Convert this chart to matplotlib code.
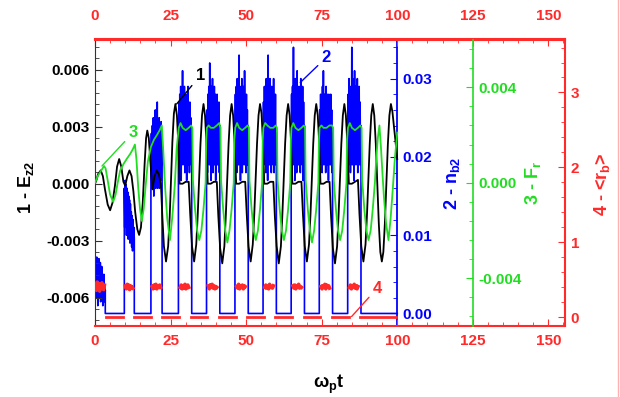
import numpy as np
import matplotlib
matplotlib.use('Agg')
import matplotlib.pyplot as plt
from matplotlib.ticker import MultipleLocator, FormatStrFormatter
from matplotlib.lines import Line2D

plt.rcParams['font.family'] = ['Liberation Sans', 'DejaVu Sans']
plt.rcParams['font.weight'] = 'bold'
plt.rcParams['axes.unicode_minus'] = False
plt.rcParams['mathtext.fontset'] = 'custom'
plt.rcParams['mathtext.rm'] = 'Liberation Sans:bold'
plt.rcParams['mathtext.it'] = 'Liberation Sans:bold'
plt.rcParams['mathtext.bf'] = 'Liberation Sans:bold'

RED = '#ff2a2a'
BLUE = '#0000ff'
GREEN = '#22dd22'

# curve 1 : E_z2 (left axis)
black_t = [
    0.0, 0.5, 1.0, 1.9, 2.6, 3.3, 4.2, 5.0, 5.8, 6.6, 7.3, 8.0, 8.7, 9.4, 10.0, 10.7, 11.4, 12.1, 12.7,
    13.3, 14.0, 14.6, 15.2, 15.8, 16.4, 16.9, 17.3, 17.8, 18.4, 19.0, 19.7, 20.4, 21.1, 21.8,
    22.3, 22.8, 23.5, 24.2, 24.7, 25.1, 25.6, 26.1, 26.6, 27.1, 27.6,
    28.0, 29.0, 30.0, 31.0, 31.5, 32.1, 32.8, 33.5, 34.0, 34.4, 34.9, 35.4, 35.9, 36.4, 36.9,
    37.3, 38.3, 39.3, 40.3, 40.8, 41.4, 42.1, 42.8, 43.3, 43.7, 44.2, 44.7, 45.2, 45.7, 46.2,
    46.7, 47.7, 48.7, 49.7, 50.2, 50.8, 51.5, 52.2, 52.7, 53.1, 53.6, 54.1, 54.6, 55.1, 55.6,
    56.0, 57.0, 58.0, 59.0, 59.5, 60.1, 60.8, 61.5, 62.0, 62.4, 62.9, 63.4, 63.9, 64.4, 64.9,
    65.3, 66.3, 67.3, 68.3, 68.8, 69.4, 70.1, 70.8, 71.3, 71.7, 72.2, 72.7, 73.2, 73.7, 74.2,
    74.6, 75.6, 76.6, 77.6, 78.1, 78.7, 79.4, 80.1, 80.6, 81.0, 81.5, 82.0, 82.5, 83.0, 83.5,
    84.0, 85.0, 86.0, 87.0, 87.5, 88.1, 88.8, 89.5, 90.0, 90.4, 90.9, 91.4, 91.9, 92.4, 92.9,
    93.4, 93.9, 94.4, 94.9, 95.4, 95.9, 96.4, 96.9, 97.4, 97.9, 98.4, 99.0, 99.5, 100.0]
black_v = [
    0.0, 0.0002, 0.0005, 0.0007, 0.0004, -0.0003, -0.0011, -0.0014, -0.0010, -0.0001, 0.0009, 0.0013, 0.0009, 0.0001, -0.0001, 0.0004, 0.0007, 0.0004, -0.0004,
    -0.0015, -0.0024, -0.0027, -0.0023, -0.0010, 0.0010, 0.0024, 0.0028, 0.0024, 0.0010, -0.0003, 0.0004, 0.0007, 0.0005, 0.0000,
    -0.0018, -0.0033, -0.0041, -0.0033, -0.0018, 0.0000, 0.0022, 0.0037, 0.0042, 0.0036, 0.0020,
    0.0, 0.0, 0.0001, 0.0001, -0.0016, -0.0033, -0.0041, -0.0032, -0.0016, 0.0, 0.0021, 0.0036, 0.0042, 0.0036, 0.0021,
    0.0, 0.0, 0.0001, 0.0001, -0.0017, -0.0034, -0.0042, -0.0033, -0.0016, 0.0, 0.0021, 0.0036, 0.0042, 0.0036, 0.0021,
    0.0, 0.0, 0.0001, 0.0001, -0.0016, -0.0033, -0.0041, -0.0032, -0.0016, 0.0, 0.0021, 0.0036, 0.0042, 0.0037, 0.0021,
    0.0, 0.0, 0.0001, 0.0001, -0.0017, -0.0033, -0.0042, -0.0033, -0.0016, 0.0, 0.0021, 0.0036, 0.0042, 0.0036, 0.0021,
    0.0, 0.0, 0.0001, 0.0001, -0.0016, -0.0033, -0.0041, -0.0032, -0.0016, 0.0, 0.0021, 0.0036, 0.0042, 0.0036, 0.0021,
    0.0, 0.0, 0.0001, 0.0001, -0.0017, -0.0034, -0.0042, -0.0033, -0.0016, 0.0, 0.0021, 0.0036, 0.0042, 0.0036, 0.0021,
    0.0, 0.0, 0.0001, 0.0002, -0.0016, -0.0033, -0.0041, -0.0032, -0.0016, 0.0, 0.0021, 0.0036, 0.0042, 0.0036, 0.0021,
    0.0, -0.0021, -0.0036, -0.0041, -0.0036, -0.0021, 0.0, 0.0021, 0.0036, 0.0042, 0.0038, 0.0029, 0.0021, 0.0013]

# curve 3 : F_r (green axis)
green_t = [
    0.0, 1.0, 2.0, 3.0, 3.5, 4.2, 5.0, 6.0, 6.8, 7.5, 8.3, 9.5, 10.5, 11.6, 12.5, 13.2, 13.7, 14.3, 14.9, 15.5,
    16.1, 16.7, 17.5, 18.5, 19.5, 20.5, 21.4, 22.1, 22.6, 23.2, 23.9, 24.8, 25.6, 26.4, 27.0,
    27.7, 28.3, 29.0, 30.0, 31.0, 31.8, 32.2, 32.4, 33.1, 33.8, 34.5, 35.2, 35.9, 36.6, 36.8,
    37.0, 37.6, 38.3, 39.3, 40.3, 41.1, 41.5, 41.7, 42.4, 43.1, 43.8, 44.5, 45.2, 45.9, 46.1,
    46.4, 47.0, 47.7, 48.7, 49.7, 50.5, 50.9, 51.1, 51.8, 52.5, 53.2, 53.9, 54.6, 55.3, 55.5,
    55.7, 56.3, 57.0, 58.0, 59.0, 59.8, 60.2, 60.4, 61.1, 61.8, 62.5, 63.2, 63.9, 64.6, 64.8,
    65.0, 65.6, 66.3, 67.3, 68.3, 69.1, 69.5, 69.7, 70.4, 71.1, 71.8, 72.5, 73.2, 73.9, 74.1,
    74.3, 74.9, 75.6, 76.6, 77.6, 78.4, 78.8, 79.0, 79.7, 80.4, 81.1, 81.8, 82.5, 83.2, 83.4,
    83.7, 84.3, 85.0, 86.0, 87.0, 87.8, 88.2, 88.4, 89.1, 89.8, 90.5, 91.2, 91.9, 92.6,
    93.1, 93.6, 94.1, 94.6, 95.1, 95.6, 96.3, 97.1, 97.8, 98.5, 99.2, 100.0]
green_v = [
    0.0, 0.0003, 0.0005, 0.0007, 0.0006, 0.0001, -0.0005, -0.0008, -0.0005, 0.0, 0.0005, 0.0008, 0.0010, 0.0012, 0.0014, 0.0016, 0.0010, -0.0002, -0.0011, -0.0016,
    -0.0011, -0.0002, 0.0009, 0.0015, 0.0018, 0.0020, 0.0022, 0.0024, 0.0013, -0.0002, -0.0015, -0.0024, -0.0014, -0.0001, 0.0014,
    0.0023, 0.0025, 0.0023, 0.0022, 0.0023, 0.0024, 0.0023, 0.0001, -0.0011, -0.0020, -0.0024, -0.0020, -0.0011, 0.0, 0.0018,
    0.0023, 0.0024, 0.0023, 0.0023, 0.0024, 0.0025, 0.0023, 0.0001, -0.0011, -0.0020, -0.0025, -0.0020, -0.0011, 0.0, 0.0018,
    0.0023, 0.0025, 0.0023, 0.0022, 0.0023, 0.0024, 0.0023, 0.0001, -0.0011, -0.0020, -0.0024, -0.0020, -0.0011, 0.0, 0.0018,
    0.0023, 0.0025, 0.0024, 0.0023, 0.0023, 0.0024, 0.0023, 0.0001, -0.0011, -0.0020, -0.0024, -0.0020, -0.0011, 0.0, 0.0018,
    0.0023, 0.0025, 0.0023, 0.0022, 0.0023, 0.0024, 0.0023, 0.0001, -0.0011, -0.0020, -0.0025, -0.0020, -0.0011, 0.0, 0.0018,
    0.0023, 0.0024, 0.0023, 0.0023, 0.0024, 0.0024, 0.0023, 0.0001, -0.0011, -0.0020, -0.0024, -0.0020, -0.0011, 0.0, 0.0018,
    0.0023, 0.0025, 0.0023, 0.0022, 0.0023, 0.0024, 0.0023, 0.0001, -0.0011, -0.0020, -0.0024, -0.0020, -0.0011, 0.0,
    0.0011, 0.0019, 0.0024, 0.0015, 0.0004, -0.0006, -0.0017, -0.0024, -0.0015, -0.0003, 0.0010, 0.0021]

# curve 2 : n_b2 (blue axis), bursts between zero stretches
burst_start = [0.0, 9.7, 18.5, 27.6, 36.9, 46.3, 55.6, 64.9, 74.2, 83.6]
burst_end = [3.4, 13.0, 22.2, 32.0, 41.3, 50.7, 60.0, 69.3, 78.6, 88.0]
burst_vals = [
    [0.004, 0.007, 0.002, 0.006, 0.003, 0.0072, 0.002, 0.005, 0.001, 0.006, 0.003, 0.007, 0.002, 0.0055, 0.0035,
     0.0065, 0.0015, 0.005, 0.003, 0.006, 0.002, 0.0045, 0.001, 0.004, 0.0025, 0.005, 0.0015, 0.0035, 0.002, 0.003],
    [0.016, 0.011, 0.017, 0.012, 0.0165, 0.010, 0.016, 0.011, 0.0155, 0.0095, 0.015, 0.010,
     0.0145, 0.009, 0.014, 0.0095, 0.013, 0.0085, 0.0125, 0.008, 0.012, 0.0085, 0.011, 0.0095],
    [0.018, 0.023, 0.016, 0.024, 0.017, 0.025, 0.015, 0.023, 0.018, 0.026, 0.016, 0.0245,
     0.017, 0.027, 0.016, 0.024, 0.018, 0.025, 0.016, 0.023, 0.017, 0.0245, 0.019, 0.022],
    [0.021, 0.027, 0.018, 0.028, 0.020, 0.029, 0.017, 0.027, 0.022, 0.031, 0.019, 0.028, 0.021, 0.029, 0.018,
     0.026, 0.020, 0.028, 0.017, 0.027, 0.021, 0.029, 0.019, 0.026, 0.018, 0.027, 0.020, 0.025, 0.019, 0.023],
    [0.020, 0.026, 0.018, 0.028, 0.021, 0.029, 0.019, 0.032, 0.020, 0.028, 0.017, 0.029, 0.022, 0.030, 0.018,
     0.027, 0.021, 0.029, 0.019, 0.028, 0.017, 0.027, 0.021, 0.028, 0.019, 0.026, 0.020, 0.027, 0.018, 0.024],
    [0.022, 0.028, 0.019, 0.029, 0.018, 0.030, 0.021, 0.027, 0.019, 0.033, 0.020, 0.029, 0.017, 0.028, 0.022,
     0.030, 0.018, 0.027, 0.020, 0.029, 0.019, 0.031, 0.021, 0.027, 0.018, 0.028, 0.020, 0.026, 0.019, 0.024],
    [0.021, 0.027, 0.019, 0.029, 0.020, 0.028, 0.018, 0.030, 0.021, 0.029, 0.017, 0.033, 0.020, 0.028, 0.019,
     0.030, 0.021, 0.027, 0.018, 0.029, 0.020, 0.028, 0.019, 0.030, 0.018, 0.027, 0.021, 0.028, 0.019, 0.023],
    [0.020, 0.028, 0.018, 0.029, 0.021, 0.034, 0.019, 0.028, 0.017, 0.030, 0.021, 0.029, 0.018, 0.031, 0.020,
     0.028, 0.019, 0.029, 0.021, 0.027, 0.018, 0.030, 0.020, 0.028, 0.019, 0.029, 0.017, 0.027, 0.020, 0.024],
    [0.021, 0.026, 0.019, 0.028, 0.020, 0.027, 0.018, 0.029, 0.021, 0.031, 0.019, 0.028, 0.020, 0.027, 0.018,
     0.029, 0.021, 0.028, 0.019, 0.027, 0.017, 0.028, 0.020, 0.026, 0.019, 0.028, 0.021, 0.026, 0.018, 0.023],
    [0.022, 0.028, 0.019, 0.030, 0.021, 0.029, 0.018, 0.028, 0.020, 0.034, 0.019, 0.030, 0.021, 0.028, 0.017,
     0.031, 0.020, 0.029, 0.019, 0.028, 0.021, 0.030, 0.018, 0.027, 0.020, 0.029, 0.019, 0.027, 0.020, 0.024],
]

# curve 4 : <r_b> (red axis)
red_burst_start = [0.0, 9.9, 18.7, 28.0, 37.3, 46.7, 56.0, 65.3, 74.6, 84.0]
red_burst_end = [3.3, 12.7, 21.9, 31.2, 40.5, 49.9, 59.2, 68.5, 77.8, 87.2]
red_burst_vals = [
    [0.42, 0.36, 0.47, 0.38, 0.45, 0.35, 0.44, 0.39, 0.46, 0.40, 0.37, 0.43],
    [0.42, 0.38, 0.44, 0.39, 0.43, 0.37, 0.42, 0.40, 0.41, 0.39],
    [0.41, 0.38, 0.43, 0.39, 0.44, 0.38, 0.42, 0.40, 0.43, 0.40],
    [0.40, 0.43, 0.38, 0.42, 0.39, 0.44, 0.38, 0.41, 0.43, 0.40],
    [0.42, 0.38, 0.43, 0.40, 0.44, 0.39, 0.42, 0.38, 0.41, 0.40],
    [0.41, 0.39, 0.44, 0.38, 0.42, 0.40, 0.43, 0.38, 0.42, 0.41],
    [0.40, 0.43, 0.39, 0.42, 0.38, 0.44, 0.40, 0.41, 0.39, 0.42],
    [0.42, 0.39, 0.43, 0.38, 0.42, 0.40, 0.44, 0.39, 0.41, 0.40],
    [0.41, 0.38, 0.42, 0.40, 0.44, 0.38, 0.43, 0.40, 0.42, 0.39],
    [0.40, 0.43, 0.38, 0.42, 0.40, 0.44, 0.39, 0.42, 0.38, 0.41],
]
red_zero_start = [3.6, 13.0, 22.3, 31.6, 41.0, 50.3, 59.7, 69.0, 78.3, 87.7]
red_zero_end = [9.4, 18.6, 27.9, 37.2, 46.6, 55.9, 65.2, 74.6, 83.9, 99.5]

W, H = 620, 397
fig = plt.figure(figsize=(W / 100, H / 100), dpi=100)
fig.patch.set_facecolor('white')
ax1 = fig.add_axes([95 / W, 1 - 326 / H, 470 / W, (326 - 39.5) / H])
ax2 = ax1.twinx()
ax3 = ax1.twinx()
ax4 = ax1.twinx()
ax1.patch.set_visible(False)
ax2.set_zorder(1)
ax1.set_zorder(2)
ax3.set_zorder(3)
ax4.set_zorder(4)

xmax = 155.5
for ax in (ax1, ax2, ax3, ax4):
    ax.set_xlim(0, xmax)
ax1.set_ylim(-0.0075, 0.0076)
ax2.set_ylim(-0.0016, 0.035)
ax3.set_ylim(-0.006, 0.006)
ax4.set_ylim(-0.116, 3.707)

# blue series: noisy bursts joined by zero stretches
bt, bv = [], []
for s, e, vals in zip(burst_start, burst_end, burst_vals):
    if s > 0:
        bt.append(s)
        bv.append(0.0)
    bt.extend(np.linspace(s, e, len(vals)))
    bv.extend(vals)
    bt.append(e)
    bv.append(0.0)
bt.append(100.0)
bv.append(0.0)
ax2.plot(bt, bv, color=BLUE, lw=1.2)

ax1.plot(black_t, black_v, color='black', lw=1.3)
ax3.plot(green_t, green_v, color=GREEN, lw=1.3)

for s, e, vals in zip(red_burst_start, red_burst_end, red_burst_vals):
    ax4.plot(np.linspace(s + 0.2, e - 0.2, len(vals)), vals, color=RED, lw=2.6)
for s, e in zip(red_zero_start, red_zero_end):
    ax4.plot([s, e], [0.0, 0.0], color=RED, lw=2.0)

# spines
ax1.spines['right'].set_visible(False)
ax1.spines['left'].set_color('#333333')
ax1.spines['top'].set_color(RED)
ax1.spines['bottom'].set_color(RED)
ax1.spines['top'].set_linewidth(1.5)
ax1.spines['bottom'].set_linewidth(1.5)
for ax in (ax2, ax3, ax4):
    for s in ('left', 'top', 'bottom'):
        ax.spines[s].set_visible(False)
ax2.spines['right'].set_position(('data', 100))
ax3.spines['right'].set_position(('data', 125))
ax2.spines['right'].set_color(BLUE)
ax3.spines['right'].set_color(GREEN)
ax4.spines['right'].set_color(RED)
ax2.spines['right'].set_linewidth(1.3)
ax3.spines['right'].set_linewidth(1.2)
ax4.spines['right'].set_linewidth(1.5)

# ticks
ax1.xaxis.set_major_locator(MultipleLocator(25))
ax1.xaxis.set_minor_locator(MultipleLocator(5))
ax1.tick_params(axis='x', which='both', direction='in', colors=RED, labelsize=11, pad=6)
ax1.tick_params(axis='x', which='major', length=5)
ax1.tick_params(axis='x', which='minor', length=3)
top = ax1.secondary_xaxis('top')
top.xaxis.set_major_locator(MultipleLocator(25))
top.xaxis.set_minor_locator(MultipleLocator(5))
top.spines['top'].set_color(RED)
top.spines['top'].set_linewidth(1.5)
top.tick_params(axis='x', which='both', direction='in', colors=RED, labelsize=11, pad=12)
top.tick_params(axis='x', which='major', length=5)
top.tick_params(axis='x', which='minor', length=3)

ax1.yaxis.set_major_locator(MultipleLocator(0.003))
ax1.yaxis.set_minor_locator(MultipleLocator(0.0006))
ax1.yaxis.set_major_formatter(FormatStrFormatter('%.3f'))
ax1.tick_params(axis='y', which='both', direction='in', colors='#333333', labelcolor='black', labelsize=11, pad=4)
ax1.tick_params(axis='y', which='major', length=5)
ax1.tick_params(axis='y', which='minor', length=3)

for ax, col, maj, mnr, fmt in ((ax2, BLUE, 0.01, 0.002, '%.2f'),
                                (ax3, GREEN, 0.004, 0.0008, '%.3f'),
                                (ax4, RED, 1, 0.2, '%d')):
    ax.yaxis.set_major_locator(MultipleLocator(maj))
    ax.yaxis.set_minor_locator(MultipleLocator(mnr))
    ax.yaxis.set_major_formatter(FormatStrFormatter(fmt))
    ax.tick_params(axis='y', which='both', direction='in', colors=col, labelsize=11, pad=4)
    ax.tick_params(axis='y', which='major', length=5)
    ax.tick_params(axis='y', which='minor', length=3)

# curve labels
ax1.annotate('1', xy=(27.0, 0.0042), xytext=(34.8, 0.0057), color='black', fontsize=12,
             fontweight='bold', ha='center', va='center',
             arrowprops=dict(arrowstyle='-', color='black', lw=1.0, shrinkA=1, shrinkB=0))
ax2.annotate('2', xy=(67.9, 0.0295), xytext=(76.5, 0.0327), color=BLUE, fontsize=12,
             fontweight='bold', ha='center', va='center',
             arrowprops=dict(arrowstyle='-', color=BLUE, lw=1.0, shrinkA=1, shrinkB=0))
ax3.annotate('3', xy=(2.3, 0.0007), xytext=(12.6, 0.0021), color=GREEN, fontsize=12,
             fontweight='bold', ha='center', va='center',
             arrowprops=dict(arrowstyle='-', color=GREEN, lw=1.0, shrinkA=1, shrinkB=0))
ax4.annotate('4', xy=(84.9, 0.01), xytext=(93.4, 0.39), color=RED, fontsize=12,
             fontweight='bold', ha='center', va='center',
             arrowprops=dict(arrowstyle='-', color=RED, lw=1.0, shrinkA=1, shrinkB=0))

# axis titles
fig.text(26 / W, 1 - 188 / H, '1 - E$_{z2}$', rotation=90, ha='center', va='center',
         fontsize=13, color='black')
fig.text(452 / W, 1 - 183 / H, '2 - n$_{b2}$', rotation=90, ha='center', va='center',
         fontsize=13, color=BLUE)
fig.text(533 / W, 1 - 183 / H, '3 - F$_{r}$', rotation=90, ha='center', va='center',
         fontsize=13, color=GREEN)
fig.text(602 / W, 1 - 184 / H, '4 - <r$_{b}$>', rotation=90, ha='center', va='center',
         fontsize=13, color=RED)
fig.text(329 / W, 1 - 384 / H, 'ω$_{p}$t', ha='center', va='center', fontsize=13, color='black')

fig.add_artist(Line2D([617.5 / W, 617.5 / W], [0, 1], color='#ffb0b0', lw=1.0))

fig.savefig('out.png', dpi=100)
